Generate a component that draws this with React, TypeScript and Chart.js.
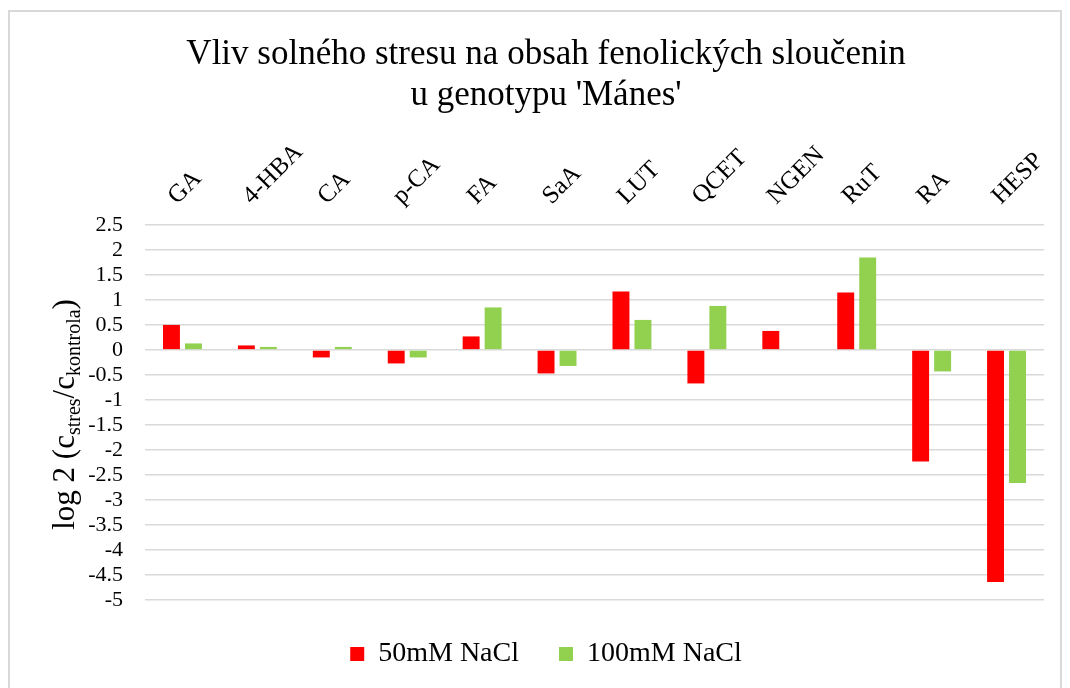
import React, { useEffect, useRef } from 'react';
import { Chart, registerables } from 'chart.js';

Chart.register(...registerables);

const FONT = '"Liberation Serif", "Times New Roman", serif';

const categories = ['GA', '4-HBA', 'CA', 'p-CA', 'FA', 'SaA', 'LUT', 'QCET', 'NGEN', 'RuT', 'RA', 'HESP'];
const nacl50 = [0.5, 0.09, -0.15, -0.27, 0.27, -0.47, 1.17, -0.67, 0.38, 1.15, -2.23, -4.64];
const nacl100 = [0.13, 0.06, 0.06, -0.15, 0.85, -0.32, 0.6, 0.88, 0, 1.85, -0.43, -2.66];
const seriesLabels = ['50mM NaCl', '100mM NaCl'];
const seriesColors = ['#FF0000', '#92D050'];
const titleLines = ['Vliv solného stresu na obsah fenolických sloučenin', "u genotypu 'Mánes'"];
const yMin = -5;
const yMax = 2.5;
const yStep = 0.5;
const yTitleParts = [
  { t: 'log 2 (c', sub: false },
  { t: 'stres', sub: true },
  { t: '/c', sub: false },
  { t: 'kontrola', sub: true },
  { t: ')', sub: false },
];

const yTitlePlugin = {
  id: 'yTitleSub',
  afterDraw(chart: any) {
    const ctx = chart.ctx as CanvasRenderingContext2D;
    const mainFont = `31px ${FONT}`;
    const subFont = `20px ${FONT}`;
    ctx.save();
    let total = 0;
    yTitleParts.forEach((p) => {
      ctx.font = p.sub ? subFont : mainFont;
      total += ctx.measureText(p.t).width;
    });
    const cy = (chart.chartArea.top + chart.chartArea.bottom) / 2 + 2;
    ctx.translate(64, cy);
    ctx.rotate(-Math.PI / 2);
    ctx.fillStyle = '#000';
    ctx.textBaseline = 'alphabetic';
    ctx.textAlign = 'left';
    let x = -total / 2;
    yTitleParts.forEach((p) => {
      ctx.font = p.sub ? subFont : mainFont;
      ctx.fillText(p.t, x, p.sub ? 6 : 0);
      x += ctx.measureText(p.t).width;
    });
    ctx.restore();
  },
};

export default function App() {
  const ref = useRef<HTMLCanvasElement | null>(null);

  useEffect(() => {
    document.body.style.overflow = 'hidden';
    const canvas = ref.current;
    if (!canvas) return;
    Chart.defaults.color = '#000';
    Chart.defaults.font.family = FONT;
    const chart = new Chart(canvas, {
      type: 'bar',
      data: {
        labels: categories,
        datasets: [
          {
            label: seriesLabels[0],
            data: nacl50,
            backgroundColor: seriesColors[0],
            barPercentage: 0.77,
            categoryPercentage: 0.587,
          },
          {
            label: seriesLabels[1],
            data: nacl100,
            backgroundColor: seriesColors[1],
            barPercentage: 0.77,
            categoryPercentage: 0.587,
          },
        ],
      },
      options: {
        responsive: false,
        animation: false,
        layout: { padding: { left: 38, right: 16, top: 0, bottom: 20 } },
        plugins: {
          title: {
            display: true,
            text: titleLines,
            color: '#000',
            font: { size: 35, family: FONT, weight: 'normal', lineHeight: 1.17 },
            padding: { top: 22, bottom: 0 },
          },
          legend: {
            position: 'bottom',
            labels: {
              boxWidth: 14,
              boxHeight: 14,
              padding: 40,
              color: '#000',
              font: { size: 28, family: FONT },
            },
          },
          tooltip: { enabled: false },
        },
        scales: {
          x: {
            position: 'top',
            grid: { display: false, drawTicks: false },
            border: { display: false },
            ticks: {
              minRotation: 45,
              maxRotation: 45,
              autoSkip: false,
              padding: 14,
              labelOffset: 11,
              color: '#000',
              font: { size: 25, family: FONT },
            },
            afterFit: (scale: any) => {
              scale.height = 111 - 2;
              scale.paddingLeft = 0;
              scale.paddingRight = 0;
            },
          },
          y: {
            min: yMin,
            max: yMax,
            grid: { color: '#d9d9d9', lineWidth: 1.6, drawTicks: false },
            border: { display: false },
            ticks: {
              stepSize: yStep,
              autoSkip: false,
              padding: 22,
              color: '#000',
              font: { size: 22, family: FONT },
              callback: (v: any) => String(v),
            },
            afterFit: (scale: any) => {
              scale.width = 97;
              scale.paddingTop = 0;
              scale.paddingBottom = 0;
            },
          },
        },
      },
      plugins: [yTitlePlugin],
    } as any);
    return () => chart.destroy();
  }, []);

  return (
    <div
      style={{
        position: 'fixed',
        left: 8,
        top: 10,
        width: 1054,
        height: 690,
        border: '2px solid #d9d9d9',
        boxSizing: 'border-box',
        background: '#fff',
      }}
    >
      <canvas ref={ref} width={1050} height={686} style={{ display: 'block' }} />
    </div>
  );
}
